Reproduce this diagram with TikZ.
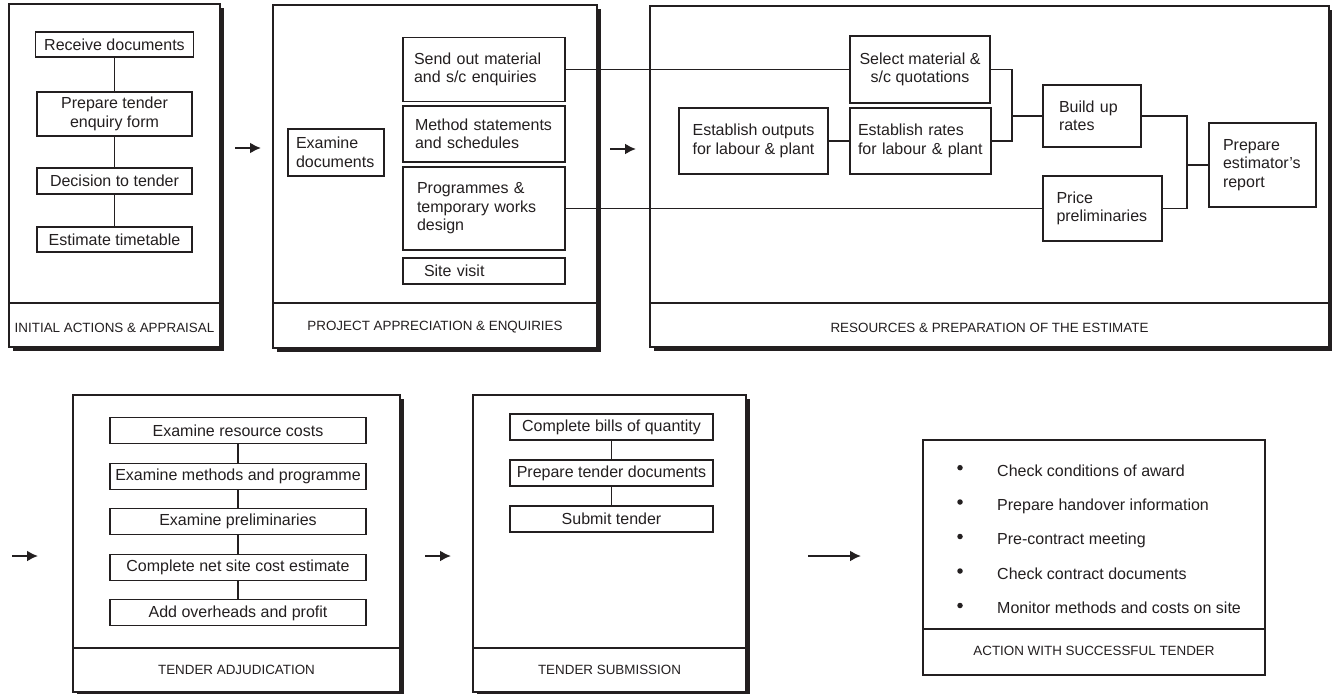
\documentclass[tikz,border=0pt]{standalone}
\usepackage{fontspec}
\setmainfont{Liberation Sans}
\usetikzlibrary{arrows.meta}
\definecolor{ink}{RGB}{35,31,32}
\begin{document}
\begin{tikzpicture}[x=1pt,y=-1pt,
  box/.style={draw=ink,line width=1.1pt,fill=white,inner sep=0pt,text=ink,
    font=\fontsize{16}{18.5}\selectfont,align=center},
  lab/.style={inner sep=0pt,text=ink,font=\fontsize{13.4}{16}\selectfont},
  item/.style={inner sep=0pt,text=ink,font=\fontsize{16}{18.5}\selectfont,anchor=base west},
  dot/.style={circle,fill=ink,inner sep=0pt,minimum size=5.5pt},
  conn/.style={draw=ink,line width=1.1pt},
  flow/.style={draw=ink,line width=2pt,-{Latex[length=11pt,width=11pt]}},
  panelline/.style={draw=ink,line width=1.3pt}]
\useasboundingbox (0,0) rectangle (1332,693);

% ---------- Panel 1 ----------
\fill[ink] (13,8) rectangle (224,351);
\draw[panelline,fill=white] (9,4) rectangle (220,347);
\draw[panelline] (9,303) -- (220,303);
\node[lab] (lab1) at (114.5,327.5) {INITIAL ACTIONS \& APPRAISAL};
\node[box,minimum width=158pt,minimum height=25pt] (rd) at (114.5,44.5) {Receive documents};
\node[box,minimum width=155pt,minimum height=44pt] (pt) at (114.5,114) {Prepare tender\\enquiry form};
\node[box,minimum width=155pt,minimum height=26pt] (dt) at (114.5,181) {Decision to tender};
\node[box,minimum width=155pt,minimum height=25pt] (et) at (114.5,239.5) {Estimate timetable};
\draw[conn] (rd) -- (pt);
\draw[conn] (pt) -- (dt);
\draw[conn] (dt) -- (et);

\coordinate (a1s) at (235,148);
\coordinate (a1e) at (261,148);
\draw[flow] (a1s) -- (a1e);

% ---------- Panel 2 ----------
\fill[ink] (277,9) rectangle (601,352);
\draw[panelline,fill=white] (273,5) rectangle (597,348);
\draw[panelline] (273,303) -- (597,303);
\node[lab] (lab2) at (435,327.5) {PROJECT APPRECIATION \& ENQUIRIES};
\node[box,align=left,text width=80pt,inner xsep=8pt,minimum height=47pt] (ed) at (336,152.5) {Examine\\documents};
\node[box,align=left,text width=140pt,inner xsep=11pt,minimum height=64pt] (so) at (484,69.5) {Send out material\\and s/c enquiries};
\node[box,align=left,text width=138pt,inner xsep=12pt,minimum height=56pt] (ms) at (484,134) {Method statements\\and schedules};
\node[box,align=left,text width=134pt,inner xsep=14pt,minimum height=83pt] (pg) at (484,208.5) {Programmes \&\\temporary works\\design};
\node[box,align=left,text width=120pt,inner xsep=21pt,minimum height=26pt] (sv) at (484,271) {Site visit};

\coordinate (a2s) at (610,149);
\coordinate (a2e) at (636,149);
\draw[flow] (a2s) -- (a2e);

% ---------- Panel 3 ----------
\fill[ink] (654,10) rectangle (1333,351);
\draw[panelline,fill=white] (650,6) rectangle (1329,347);
\draw[panelline] (650,303) -- (1329,303);
\node[lab] (lab3) at (989.5,327.5) {RESOURCES \& PREPARATION OF THE ESTIMATE};
\node[box,minimum width=140pt,minimum height=67pt] (sm) at (920,69.5) {Select material \&\\s/c quotations};
\node[box,align=left,text width=125pt,inner xsep=8pt,minimum height=66pt] (er) at (920.5,141) {Establish rates\\for labour \& plant};
\node[box,minimum width=149pt,minimum height=66pt] (eo) at (753.5,141) {Establish outputs\\for labour \& plant};
\node[box,align=left,text width=66pt,inner xsep=16pt,minimum height=62pt] (bu) at (1092,116) {Build up\\rates};
\node[box,align=left,text width=92pt,inner xsep=13.5pt,minimum height=65pt] (pp) at (1102.5,208.5) {Price\\preliminaries};
\node[box,align=left,text width=79pt,inner xsep=14pt,minimum height=84pt] (pr) at (1262.5,165) {Prepare\\estimator's\\report};

\draw[conn] (so) -- (sm);
\draw[conn] (pg) -- (pp);
\draw[conn] (eo) -- (er);
\coordinate (j1) at (1012,116);
\coordinate (j2) at (1187,165);
\draw[conn] (sm.east) -| (j1) |- (er.east);
\draw[conn] (j1) -- (bu.west);
\draw[conn] (bu.east) -| (j2) |- (pp.east);
\draw[conn] (j2) -- (pr.west);

% ---------- Panel 4 ----------
\coordinate (a3s) at (12,556);
\coordinate (a3e) at (38,556);
\draw[flow] (a3s) -- (a3e);

\fill[ink] (77,399) rectangle (404,696);
\draw[panelline,fill=white] (73,395) rectangle (400,692);
\draw[panelline] (73,648) -- (400,648);
\node[lab] (lab4) at (236.5,669.5) {TENDER ADJUDICATION};
\node[box,minimum width=256pt,minimum height=26pt] (rc) at (238,430.5) {Examine resource costs};
\node[box,minimum width=256pt,minimum height=26pt] (mp) at (238,476.1) {Examine methods and programme};
\node[box,minimum width=256pt,minimum height=26pt] (ep) at (238,521.7) {Examine preliminaries};
\node[box,minimum width=256pt,minimum height=26pt] (nc) at (238,567.3) {Complete net site cost estimate};
\node[box,minimum width=256pt,minimum height=26pt] (op) at (238,612.9) {Add overheads and profit};
\draw[conn] (rc) -- (mp);
\draw[conn] (mp) -- (ep);
\draw[conn] (ep) -- (nc);
\draw[conn] (nc) -- (op);

\coordinate (a4s) at (425,556);
\coordinate (a4e) at (451,556);
\draw[flow] (a4s) -- (a4e);

% ---------- Panel 5 ----------
\fill[ink] (477,399) rectangle (750,696);
\draw[panelline,fill=white] (473,395) rectangle (746,692);
\draw[panelline] (473,648) -- (746,648);
\node[lab] (lab5) at (609.5,669.5) {TENDER SUBMISSION};
\node[box,minimum width=203pt,minimum height=26pt] (bq) at (611.5,427) {Complete bills of quantity};
\node[box,minimum width=203pt,minimum height=26pt] (td) at (611.5,473) {Prepare tender documents};
\node[box,minimum width=203pt,minimum height=26pt] (st) at (611.5,519) {Submit tender};
\draw[conn] (bq) -- (td);
\draw[conn] (td) -- (st);

\coordinate (a5s) at (808,556);
\coordinate (a5e) at (861,556);
\draw[flow] (a5s) -- (a5e);

% ---------- Panel 6 ----------
\draw[panelline,fill=white] (923,440) rectangle (1265,675);
\draw[panelline] (923,629) -- (1265,629);
\node[lab] (lab6) at (1094,650.5) {ACTION WITH SUCCESSFUL TENDER};
\node[dot] (d1) at (960,467.7) {};
\node[dot] (d2) at (960,502) {};
\node[dot] (d3) at (960,536.5) {};
\node[dot] (d4) at (960,571) {};
\node[dot] (d5) at (960,605.5) {};
\node[item] (i1) at (997,476) {Check conditions of award};
\node[item] (i2) at (997,510.4) {Prepare handover information};
\node[item] (i3) at (997,544.8) {Pre-contract meeting};
\node[item] (i4) at (997,579.2) {Check contract documents};
\node[item] (i5) at (997,613.6) {Monitor methods and costs on site};
\end{tikzpicture}
\end{document}
